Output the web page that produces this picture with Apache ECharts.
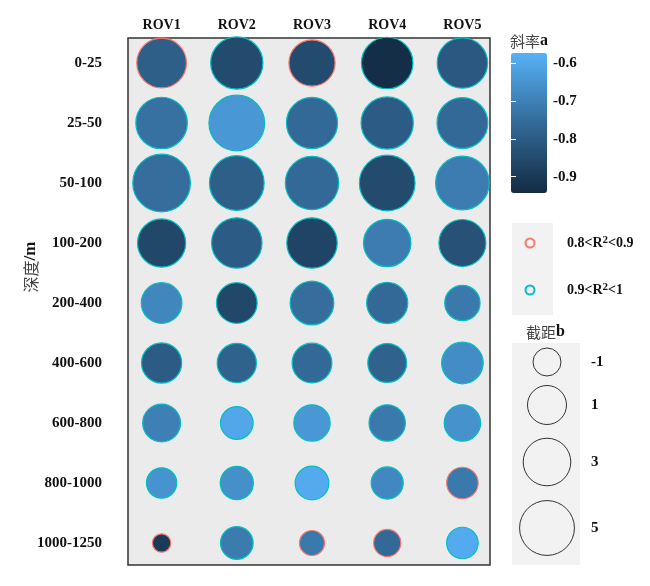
<!DOCTYPE html>
<html>
<head>
<meta charset="utf-8">
<script src="https://cdn.jsdelivr.net/npm/echarts@6/dist/echarts.min.js"></script>
<style>html,body{margin:0;padding:0;background:#fff;}#c{width:650px;height:586px;}</style>
</head>
<body>
<div id="c"></div>
<script>
// ---- data ----
const categories = ['ROV1', 'ROV2', 'ROV3', 'ROV4', 'ROV5'];
const depths = ['0-25', '25-50', '50-100', '100-200', '200-400', '400-600', '600-800', '800-1000', '1000-1250'];
// slope a (colour), rows = depth, cols = ROV1..ROV5
const slopeA = [
  [-0.79, -0.85, -0.85, -0.935, -0.81],
  [-0.74, -0.64, -0.76, -0.80, -0.76],
  [-0.75, -0.79, -0.76, -0.85, -0.71],
  [-0.86, -0.80, -0.87, -0.71, -0.83],
  [-0.685, -0.86, -0.75, -0.76, -0.72],
  [-0.80, -0.78, -0.76, -0.78, -0.67],
  [-0.70, -0.60, -0.64, -0.72, -0.655],
  [-0.65, -0.66, -0.59, -0.68, -0.72],
  [-0.90, -0.715, -0.72, -0.76, -0.59]
];
// intercept b (size)
const interceptB = [
  [3.6, 4.3, 2.7, 4.1, 3.8],
  [4.1, 5.3, 4.0, 4.3, 3.9],
  [5.9, 5.0, 4.6, 5.3, 4.7],
  [3.2, 3.8, 3.8, 3.0, 2.9],
  [1.4, 1.4, 2.1, 1.5, 0.3],
  [1.3, 1.1, 1.2, 1.0, 1.6],
  [0.8, -0.2, 0.5, 0.5, 0.5],
  [-0.6, -0.1, 0.0, -0.3, -0.4],
  [-2.2, -0.2, -1.4, -1.1, -0.4]
];
// R² class: 1 = 0.8<R²<0.9, 2 = 0.9<R²<1
const r2Class = [
  [1, 2, 1, 2, 2],
  [2, 2, 2, 2, 2],
  [2, 2, 2, 2, 2],
  [2, 2, 2, 2, 2],
  [2, 2, 2, 2, 2],
  [2, 2, 2, 2, 2],
  [2, 2, 2, 2, 2],
  [2, 2, 2, 2, 1],
  [1, 2, 1, 1, 2]
];
const r2Labels = [['0.8<R', '<0.9'], ['0.9<R', '<1']];
const colorTicks = [-0.9, -0.8, -0.7, -0.6];
const colorMin = -0.943, colorMax = -0.573;
const sizeLegendValues = [-1, 1, 3, 5];

// ---- styling ----
const serifB = 'Liberation Serif';
const cjk = 'Noto Sans CJK SC';
const ringColors = {1: '#F8766D', 2: '#00BFC4'};
const BW = 1.2;
function outerDiameter(b) { return Math.sqrt(Math.max(1220 + 380 * b, 100)); }

const data = [];
depths.forEach((d, r) => {
  categories.forEach((c, ci) => {
    data.push({
      value: [ci, r, slopeA[r][ci], interceptB[r][ci], r2Class[r][ci]],
      itemStyle: {borderColor: ringColors[r2Class[r][ci]], borderWidth: BW, opacity: 1}
    });
  });
});

const sizeLegendY = [362, 405, 462, 528];
const graphics = [
  {type: 'rect', z: -1, shape: {x: 128, y: 38, width: 362, height: 527},
   style: {fill: '#EBEBEB', stroke: '#333', lineWidth: 1.5}},
  // y axis title
  {type: 'text', x: 31, y: 267, rotation: Math.PI / 2, style: {rich: {
      c: {fontFamily: cjk, fontSize: 16, fill: '#444'},
      b: {fontFamily: serifB, fontWeight: 'bold', fontSize: 17, fill: '#111'}},
      text: '{c|深度}{b|/m}', align: 'center', verticalAlign: 'middle'}},
  // colour bar title
  {type: 'text', left: 510, top: 33, style: {rich: {
      c: {fontFamily: cjk, fontSize: 15, fill: '#444'},
      b: {fontFamily: serifB, fontWeight: 'bold', fontSize: 16, fill: '#111'}},
      text: '{c|斜率}{b|a}'}},
  // R2 legend
  {type: 'rect', shape: {x: 512, y: 223, width: 41, height: 92}, style: {fill: '#F2F2F2'}},
  // size legend
  {type: 'text', left: 526, top: 324, style: {rich: {
      c: {fontFamily: cjk, fontSize: 15, fill: '#444'},
      b: {fontFamily: serifB, fontWeight: 'bold', fontSize: 16, fill: '#111'}},
      text: '{c|截距}{b|b}'}},
  {type: 'rect', shape: {x: 512, y: 343, width: 68, height: 222}, style: {fill: '#F2F2F2'}}
];
r2Labels.forEach((lab, i) => {
  const y = [243, 290][i];
  graphics.push({type: 'circle', shape: {cx: 530, cy: y, r: 4.5},
    style: {fill: 'none', stroke: ringColors[i + 1], lineWidth: 2}});
  graphics.push({type: 'text', x: 567, y: y, style: {
    text: '{n|' + lab[0] + '}{s|2}{n|' + lab[1] + '}',
    rich: {
      n: {fontFamily: serifB, fontWeight: 'bold', fontSize: 14, fill: '#111', lineHeight: 16},
      s: {fontFamily: serifB, fontWeight: 'bold', fontSize: 11, fill: '#111', lineHeight: 16,
          verticalAlign: 'top', padding: [0, 0, 8, 0]}
    },
    verticalAlign: 'middle'}});
});
sizeLegendValues.forEach((v, i) => {
  graphics.push({type: 'circle', shape: {cx: 547, cy: sizeLegendY[i], r: outerDiameter(v) / 2 - 0.5},
    style: {fill: 'none', stroke: '#333', lineWidth: 1}});
  graphics.push({type: 'text', x: 591, y: sizeLegendY[i], style: {text: String(v), fontFamily: serifB,
    fontWeight: 'bold', fontSize: 15, fill: '#111', verticalAlign: 'middle'}});
});

const chart = echarts.init(document.getElementById('c'));
chart.setOption({
  backgroundColor: '#fff',
  animation: false,
  graphic: graphics,
  grid: [
    {left: 124, right: 150, top: 33, bottom: 13},
    {left: 511, top: 53, width: 36, height: 140}
  ],
  xAxis: [
    {type: 'category', gridIndex: 0, data: categories, position: 'top', boundaryGap: true,
     axisLine: {show: false}, axisTick: {show: false}, splitLine: {show: false},
     axisLabel: {fontFamily: serifB, fontWeight: 'bold', fontSize: 14, color: '#111', margin: 1}},
    {type: 'value', gridIndex: 1, show: false}
  ],
  yAxis: [
    {type: 'category', gridIndex: 0, data: depths, inverse: true, boundaryGap: true,
     axisLine: {show: false}, axisTick: {show: false}, splitLine: {show: false},
     axisLabel: {fontFamily: serifB, fontWeight: 'bold', fontSize: 15, color: '#111', margin: 22}},
    {type: 'value', gridIndex: 1, position: 'right', min: colorMin, max: colorMax, z: 10,
     axisLine: {show: false}, splitLine: {show: false},
     axisTick: {inside: true, length: 5, lineStyle: {color: '#fff', width: 1}, customValues: colorTicks},
     axisLabel: {customValues: colorTicks, fontFamily: serifB, fontWeight: 'bold', fontSize: 15,
       color: '#111', margin: 6, formatter: v => v.toFixed(1)}},
    {type: 'value', gridIndex: 1, position: 'left', min: colorMin, max: colorMax, z: 10,
     axisLine: {show: false}, splitLine: {show: false}, axisLabel: {show: false},
     axisTick: {inside: true, length: 5, lineStyle: {color: '#fff', width: 1}, customValues: colorTicks}}
  ],
  visualMap: {
    type: 'continuous', seriesIndex: 0, dimension: 2, min: colorMin, max: colorMax,
    calculable: false, orient: 'vertical', left: 511, top: 53, padding: 0, z: 1,
    itemWidth: 36, itemHeight: 140, inRange: {color: ['#132B43', '#336A98', '#56B1F7']},
    textStyle: {color: 'transparent'}
  },
  series: [{
    type: 'scatter', xAxisIndex: 0, yAxisIndex: 0, z: 3,
    data: data,
    itemStyle: {opacity: 1},
    symbolSize: v => outerDiameter(v[3]) - BW
  }]
});
</script>
</body>
</html>
